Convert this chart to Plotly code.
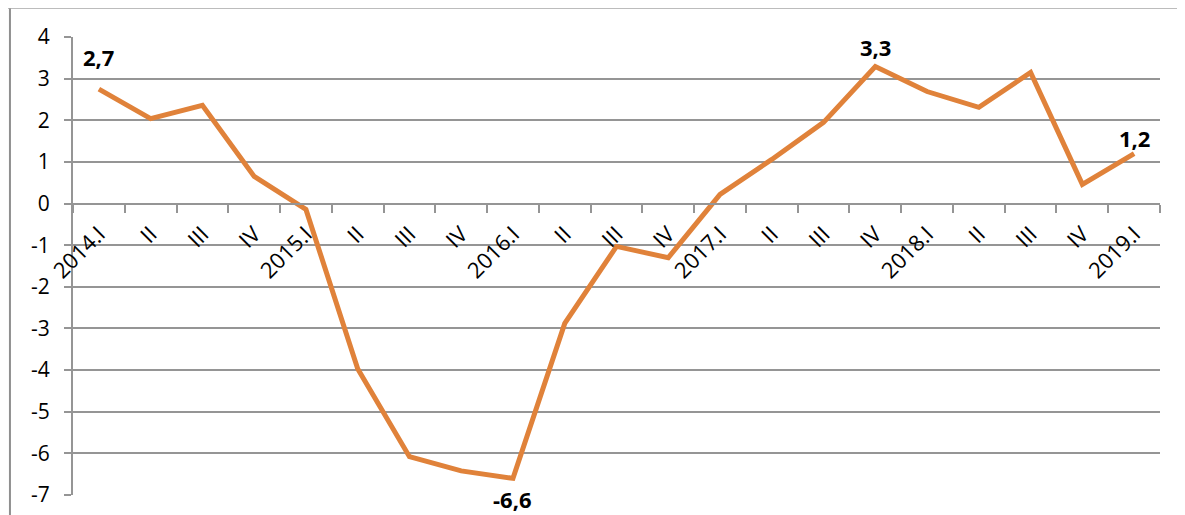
import plotly.graph_objects as go

periods = ["2014.I", "II", "III", "IV",
           "2015.I", "II", "III", "IV",
           "2016.I", "II", "III", "IV",
           "2017.I", "II", "III", "IV",
           "2018.I", "II", "III", "IV",
           "2019.I"]
values = [2.75, 2.04, 2.36, 0.65,
          -0.14, -3.97, -6.08, -6.42,
          -6.6, -2.88, -1.03, -1.3,
          0.22, 1.06, 1.95, 3.29,
          2.69, 2.31, 3.15, 0.46,
          1.2]
y_ticks = [-7, -6, -5, -4, -3, -2, -1, 0, 1, 2, 3, 4]
y_tick_text = ["-7", "-6", "-5", "-4", "-3", "-2", "-1", "0", "1", "2", "3", "4"]
# labelled points: (index, text, pixel shift)
label_idx = [0, 15, 8, 20]
label_txt = ["2,7", "3,3", "-6,6", "1,2"]
label_shift = [32, 20, -21, 16]

x = list(range(len(periods)))
LINE = "#E0823A"
GRID = "#959595"
FONT = "Open Sans"

fig = go.Figure()
fig.add_trace(go.Scatter(x=x, y=values, mode="lines",
                         line=dict(color=LINE, width=5), hoverinfo="skip"))

for i, t, s in zip(label_idx, label_txt, label_shift):
    fig.add_annotation(x=i, y=values[i], text="<b>%s</b>" % t, showarrow=False,
                       yshift=s, font=dict(family=FONT, size=22, color="black"))

fig.update_layout(
    width=1185, height=515,
    margin=dict(l=65, r=33, t=29, b=28),
    paper_bgcolor="white", plot_bgcolor="white",
    showlegend=False,
    font=dict(family=FONT, size=21, color="black"),
    xaxis=dict(
        range=[-0.5, len(periods) - 0.5],
        tickmode="array", tickvals=x, ticktext=periods,
        tickangle=-45, ticks="outside", ticklen=8,
        tickcolor="rgba(0,0,0,0)",
        showgrid=False, zeroline=False,
        showline=True, linecolor=GRID, linewidth=2,
        anchor="free", position=7 / 11,
        minor=dict(tickmode="array",
                   tickvals=[i - 0.5 for i in range(len(periods) + 1)],
                   ticks="outside", ticklen=8, tickcolor=GRID, tickwidth=2,
                   showgrid=False),
        tickfont=dict(family=FONT, size=22),
    ),
    yaxis=dict(
        range=[-7, 4], tickmode="array", tickvals=y_ticks, ticktext=y_tick_text,
        showgrid=True, gridcolor=GRID, gridwidth=2,
        zeroline=False,
        showline=True, linecolor=GRID, linewidth=2,
        ticks="outside", ticklen=7, tickcolor=GRID, tickwidth=2,
        ticklabelstandoff=10,
        tickfont=dict(family=FONT, size=21),
    ),
)

# outer chart frame
fig.add_shape(type="line", xref="paper", yref="paper",
              x0=-0.058, x1=-0.058, y0=-0.1, y1=1.064,
              line=dict(color="#8f8f8f", width=2))
fig.add_shape(type="line", xref="paper", yref="paper",
              x0=-0.06, x1=1.1, y0=1.064, y1=1.064,
              line=dict(color="#a6a6a6", width=2))

fig.write_html("out.html")
